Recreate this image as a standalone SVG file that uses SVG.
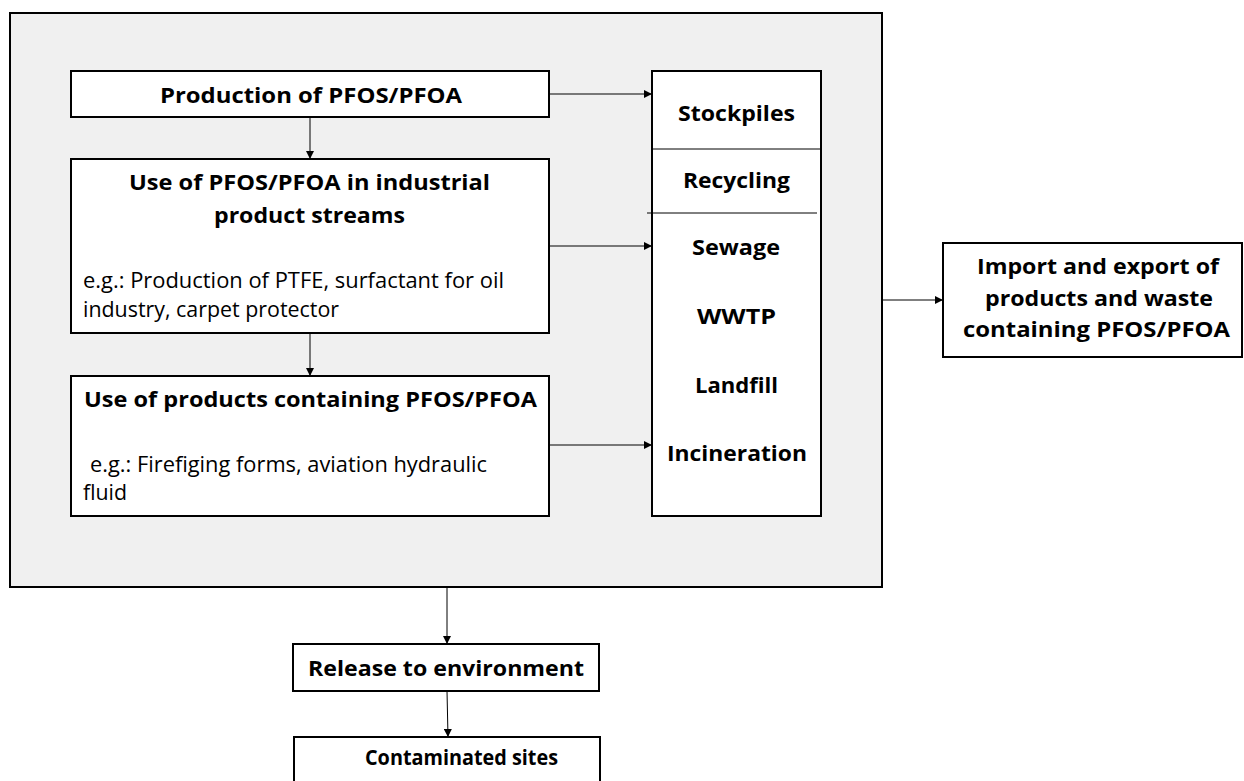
<svg xmlns="http://www.w3.org/2000/svg" width="1244" height="781" viewBox="0 0 1244 781">
<style>
.box{fill:#ffffff;stroke:#000;stroke-width:2}
.outer{fill:#f0f0f0;stroke:#000;stroke-width:2}
.b{font-family:"Open Sans","Liberation Sans",sans-serif;font-weight:bold;font-size:22px;fill:#000}
.r{font-family:"Open Sans","Liberation Sans",sans-serif;font-size:21.5px;fill:#000}
.c{text-anchor:middle}
.conn{stroke:#000;stroke-width:1;fill:none;marker-end:url(#ah)}
.div{stroke:#000;stroke-width:1}
</style>
<defs>
<marker id="ah" viewBox="0 0 10 10" refX="10" refY="5" markerWidth="9" markerHeight="8" markerUnits="userSpaceOnUse" orient="auto">
<path d="M0,0 L10,5 L0,10 z" fill="#000"/>
</marker>
</defs>
<g id="system">
<rect class="outer" x="10" y="13" width="872" height="574"/>
</g>
<g id="production">
<rect class="box" x="71" y="71" width="478" height="46"/>
<text class="b c" x="311" y="103" textLength="302" lengthAdjust="spacingAndGlyphs">Production of PFOS/PFOA</text>
</g>
<g id="industrial-use">
<rect class="box" x="71" y="159" width="478" height="174"/>
<text class="b c" x="309.5" y="190" textLength="361" lengthAdjust="spacingAndGlyphs">Use of PFOS/PFOA in industrial</text>
<text class="b c" x="309.5" y="223" textLength="191" lengthAdjust="spacingAndGlyphs">product streams</text>
<text class="r" x="83" y="288" textLength="421" lengthAdjust="spacingAndGlyphs">e.g.: Production of PTFE, surfactant for oil</text>
<text class="r" x="83" y="317" textLength="256" lengthAdjust="spacingAndGlyphs">industry, carpet protector</text>
</g>
<g id="product-use">
<rect class="box" x="71" y="376" width="478" height="140"/>
<text class="b" x="84" y="407" textLength="453" lengthAdjust="spacingAndGlyphs">Use of products containing PFOS/PFOA</text>
<text class="r" x="90" y="472" textLength="397" lengthAdjust="spacingAndGlyphs">e.g.: Firefiging forms, aviation hydraulic</text>
<text class="r" x="83" y="500" textLength="44" lengthAdjust="spacingAndGlyphs">fluid</text>
</g>
<g id="waste-management">
<rect class="box" x="652" y="71" width="169" height="445"/>
<line class="div" x1="652" y1="149" x2="821" y2="149"/>
<line class="div" x1="647" y1="213" x2="817" y2="213"/>
<text class="b c" x="736.5" y="121" textLength="117" lengthAdjust="spacingAndGlyphs">Stockpiles</text>
<text class="b c" x="736.5" y="188" textLength="107" lengthAdjust="spacingAndGlyphs">Recycling</text>
<text class="b c" x="736" y="255" textLength="88" lengthAdjust="spacingAndGlyphs">Sewage</text>
<text class="b c" x="736.5" y="324" textLength="79" lengthAdjust="spacingAndGlyphs">WWTP</text>
<text class="b c" x="736.5" y="393" textLength="83" lengthAdjust="spacingAndGlyphs">Landfill</text>
<text class="b c" x="737" y="461" textLength="140" lengthAdjust="spacingAndGlyphs">Incineration</text>
</g>
<g id="import-export">
<rect class="box" x="943" y="243" width="299" height="114"/>
<text class="b c" x="1098" y="274" textLength="242" lengthAdjust="spacingAndGlyphs">Import and export of</text>
<text class="b c" x="1099" y="306" textLength="228" lengthAdjust="spacingAndGlyphs">products and waste</text>
<text class="b c" x="1096.5" y="337" textLength="267" lengthAdjust="spacingAndGlyphs">containing PFOS/PFOA</text>
</g>
<g id="release">
<rect class="box" x="293" y="644" width="306" height="47"/>
<text class="b c" x="446" y="676" textLength="276" lengthAdjust="spacingAndGlyphs">Release to environment</text>
</g>
<g id="contaminated">
<rect class="box" x="294" y="737" width="306" height="60"/>
<text class="b c" x="461.5" y="765" textLength="193" lengthAdjust="spacingAndGlyphs">Contaminated sites</text>
</g>
<g id="connectors">
<line class="conn" x1="549" y1="94" x2="652" y2="94"/>
<line class="conn" x1="310" y1="117" x2="310" y2="159"/>
<line class="conn" x1="549" y1="246" x2="652" y2="246"/>
<line class="conn" x1="310" y1="333" x2="310" y2="376"/>
<line class="conn" x1="549" y1="445" x2="652" y2="445"/>
<line class="conn" x1="882" y1="300" x2="943" y2="300"/>
<line class="conn" x1="447" y1="587" x2="447" y2="644"/>
<line class="conn" x1="447" y1="691" x2="448" y2="737"/>
</g>
</svg>
